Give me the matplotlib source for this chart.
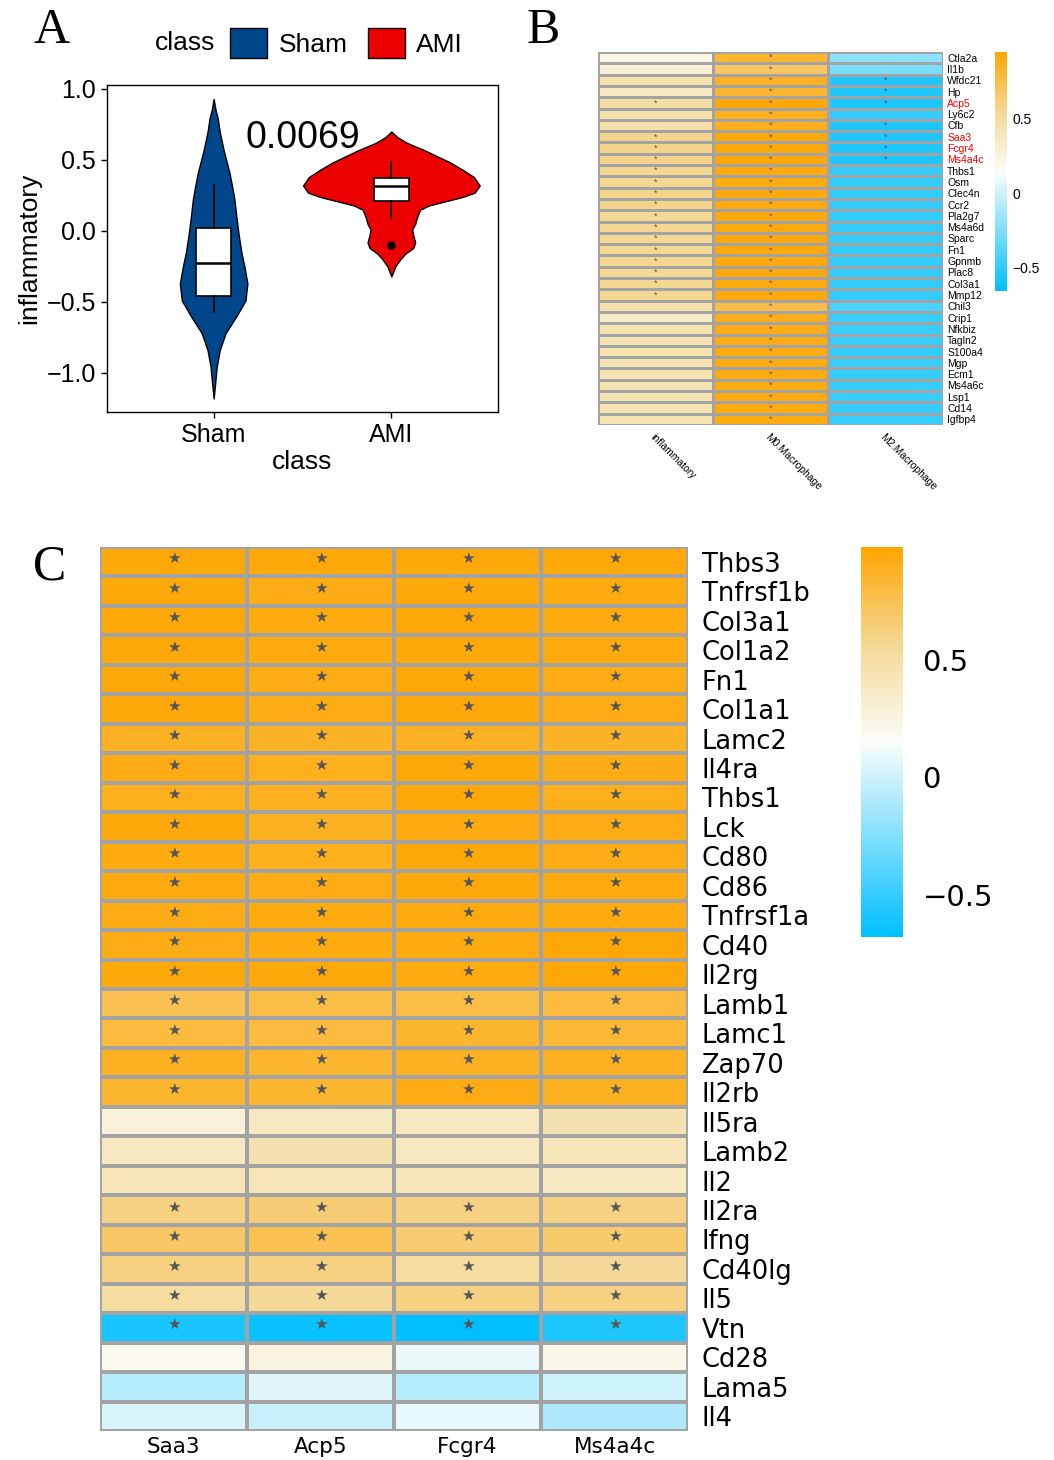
import numpy as np
import matplotlib
matplotlib.use('Agg')
import matplotlib.pyplot as plt
from matplotlib.colors import LinearSegmentedColormap, Normalize
from matplotlib.cm import ScalarMappable
from matplotlib.patches import Patch

plt.rcParams['font.family'] = ['Liberation Sans', 'DejaVu Sans']

# ---------------- panel A : violin + box ----------------
groups = ['Sham', 'AMI']
group_colors = ['#00468B', '#ED0000']

# violin outline: level -> half width (category units)
sham_levels = [0.93, 0.85, 0.80, 0.70, 0.57, 0.41, 0.30, 0.22, 0.10, -0.02,
               -0.15, -0.25, -0.37, -0.49, -0.60, -0.72, -0.84, -0.96, -1.08, -1.18]
sham_width = [0, .011, .022, .034, .056, .089, .106, .117, .128, .140,
              .156, .173, .190, .179, .128, .067, .034, .017, .008, 0]
ami_levels = [0.70, 0.66, 0.62, 0.57, 0.52, 0.48, 0.43, 0.38, 0.32, 0.27, 0.24, 0.21,
              0.18, 0.15, 0.10, 0.05, 0.01, -0.03, -0.08, -0.12, -0.16, -0.20, -0.25, -0.32]
ami_width = [0, .034, .089, .184, .268, .335, .402, .464, .497, .469, .402, .307,
             .212, .162, .145, .134, .117, .123, .134, .123, .078, .050, .022, 0]

sham_box = dict(whislo=-0.573, q1=-0.458, med=-0.225, q3=0.021, whishi=0.324, fliers=[])
ami_box = dict(whislo=0.09, q1=0.21, med=0.317, q3=0.373, whishi=0.487, fliers=[-0.10])
p_value = '0.0069'

# ---------------- panel B : correlation heatmap ----------------
b_rows = ['Ctla2a', 'Il1b', 'Wfdc21', 'Hp', 'Acp5', 'Ly6c2', 'Cfb', 'Saa3', 'Fcgr4',
          'Ms4a4c', 'Thbs1', 'Osm', 'Clec4n', 'Ccr2', 'Pla2g7', 'Ms4a6d', 'Sparc', 'Fn1',
          'Gpnmb', 'Plac8', 'Col3a1', 'Mmp12', 'Chil3', 'Crip1', 'Nfkbiz', 'Tagln2',
          'S100a4', 'Mgp', 'Ecm1', 'Ms4a6c', 'Lsp1', 'Cd14', 'Igfbp4']
b_cols = ['inflammatory', 'M0.Macrophage', 'M2.Macrophage']
b_red = ['Acp5', 'Saa3', 'Fcgr4', 'Ms4a4c']
b_inflam = [0.23, 0.29, 0.46, 0.36, 0.48, 0.45, 0.45, 0.57, 0.57, 0.57, 0.56, 0.56,
            0.57, 0.57, 0.56, 0.56, 0.56, 0.56, 0.56, 0.56, 0.56, 0.56, 0.45, 0.33,
            0.43, 0.43, 0.43, 0.43, 0.43, 0.43, 0.43, 0.43, 0.43]
b_m0 = [0.82, 0.68, 0.85, 0.82, 0.93, 0.87, 0.87, 0.92, 0.92, 0.92, 0.91, 0.90,
        0.91, 0.91, 0.91, 0.91, 0.91, 0.91, 0.91, 0.91, 0.91, 0.91, 0.75, 0.88,
        0.89, 0.89, 0.90, 0.90, 0.90, 0.90, 0.90, 0.90, 0.90]
b_m2 = [-0.21, -0.27, -0.56, -0.56, -0.57, -0.50, -0.56, -0.57, -0.57, -0.56, -0.50, -0.50,
        -0.50, -0.50, -0.50, -0.50, -0.50, -0.50, -0.50, -0.50, -0.50, -0.50, -0.42, -0.48,
        -0.48, -0.48, -0.49, -0.49, -0.49, -0.49, -0.49, -0.49, -0.49]
b_star_inflam = [5, 8, 9, 10, 11, 12, 13, 14, 15, 16, 17, 18, 19, 20, 21, 22]
b_star_m2 = [3, 4, 5, 7, 8, 9, 10]
b_range = (-0.66, 0.95)

# ---------------- panel C : gene x gene heatmap ----------------
c_rows = ['Thbs3', 'Tnfrsf1b', 'Col3a1', 'Col1a2', 'Fn1', 'Col1a1', 'Lamc2', 'Il4ra',
          'Thbs1', 'Lck', 'Cd80', 'Cd86', 'Tnfrsf1a', 'Cd40', 'Il2rg', 'Lamb1', 'Lamc1',
          'Zap70', 'Il2rb', 'Il5ra', 'Lamb2', 'Il2', 'Il2ra', 'Ifng', 'Cd40lg', 'Il5',
          'Vtn', 'Cd28', 'Lama5', 'Il4']
c_cols = ['Saa3', 'Acp5', 'Fcgr4', 'Ms4a4c']
c_values = [
    [0.95, 0.95, 0.95, 0.95],
    [0.95, 0.92, 0.95, 0.93],
    [0.95, 0.93, 0.95, 0.93],
    [0.95, 0.93, 0.95, 0.93],
    [0.95, 0.92, 0.95, 0.92],
    [0.95, 0.92, 0.95, 0.92],
    [0.88, 0.87, 0.88, 0.87],
    [0.92, 0.90, 0.95, 0.92],
    [0.90, 0.88, 0.95, 0.90],
    [0.95, 0.88, 0.93, 0.92],
    [0.93, 0.90, 0.95, 0.92],
    [0.93, 0.92, 0.95, 0.93],
    [0.92, 0.93, 0.93, 0.93],
    [0.92, 0.93, 0.93, 0.96],
    [0.95, 0.95, 0.93, 0.96],
    [0.75, 0.78, 0.78, 0.80],
    [0.80, 0.80, 0.85, 0.83],
    [0.88, 0.85, 0.88, 0.88],
    [0.85, 0.85, 0.92, 0.88],
    [0.28, 0.38, 0.38, 0.45],
    [0.38, 0.45, 0.38, 0.42],
    [0.42, 0.42, 0.42, 0.38],
    [0.62, 0.65, 0.62, 0.62],
    [0.70, 0.75, 0.66, 0.68],
    [0.62, 0.62, 0.52, 0.55],
    [0.52, 0.55, 0.62, 0.62],
    [-0.60, -0.65, -0.68, -0.58],
    [0.20, 0.25, 0.10, 0.22],
    [-0.08, 0.06, -0.08, 0.00],
    [0.03, -0.02, 0.08, -0.10],
]
c_no_star = ['Il5ra', 'Lamb2', 'Il2', 'Cd28', 'Lama5', 'Il4']
c_range = (-0.68, 0.98)

cmap = LinearSegmentedColormap.from_list(
    'bwo', [(0, '#00BFFF'), (0.5, '#FBFDFA'), (0.75, '#F4D895'), (1, '#FFA500')])
grid_col = '#A3A3A3'
W, H = 1054, 1460


def fx(px):
    return px / W


def fy(py):
    return 1 - py / H


fig = plt.figure(figsize=(W / 100, H / 100), dpi=100)

# ---- A ----
ax = fig.add_axes([fx(107), fy(412), fx(391), 327 / H])
for i, (lv, wd) in enumerate([(sham_levels, sham_width), (ami_levels, ami_width)]):
    lv = np.array(lv)
    wd = np.array(wd)
    ax.fill_betweenx(lv, i + 1 - wd, i + 1 + wd, facecolor=group_colors[i],
                     edgecolor='black', linewidth=1.0, zorder=1)
stats = [sham_box, ami_box]
ax.bxp(stats, positions=[1, 2], widths=0.2, patch_artist=True, showcaps=False,
       boxprops=dict(facecolor='white', edgecolor='black', linewidth=1.2),
       whiskerprops=dict(color='black', linewidth=1.2),
       medianprops=dict(color='black', linewidth=1.8),
       flierprops=dict(marker='o', markerfacecolor='black', markeredgecolor='black',
                       markersize=5), zorder=2)
ax.set_xlim(0.4, 2.6)
ax.set_ylim(-1.275, 1.028)
ax.set_xticks([1, 2])
ax.set_xticklabels(groups)
ax.set_yticks([-1.0, -0.5, 0.0, 0.5, 1.0])
ax.set_yticklabels(['\u22121.0', '\u22120.5', '0.0', '0.5', '1.0'])
ax.tick_params(labelsize=18, length=4, width=1, pad=4)
ax.set_xlabel('class', fontsize=19, labelpad=2)
ax.set_ylabel('inflammatory', fontsize=19, labelpad=4)
for s in ax.spines.values():
    s.set_linewidth(1.0)
ax.text(1.5, 0.655, p_value, fontsize=27, ha='center', va='center')

handles = [Patch(facecolor=c, edgecolor='black', label=g) for g, c in zip(groups, group_colors)]
fig.legend(handles=handles, loc='center left', bbox_to_anchor=(fx(230), fy(43)), ncol=2,
           frameon=False, fontsize=19, handlelength=1.4, handleheight=1.4,
           handletextpad=0.45, columnspacing=0.75, borderpad=0, borderaxespad=0)
fig.text(fx(215), fy(43), 'class', fontsize=19, ha='right', va='center')

# ---- B ----
norm_b = Normalize(*b_range)
data_b = np.column_stack([b_inflam, b_m0, b_m2])
axb = fig.add_axes([fx(598), fy(425), fx(345), 373 / H])
axb.pcolormesh(data_b, cmap=cmap, norm=norm_b, edgecolors=grid_col, linewidth=1.0)
axb.set_xlim(0, 3)
axb.set_ylim(len(b_rows), 0)
axb.set_xticks([])
axb.yaxis.tick_right()
axb.set_yticks(np.arange(len(b_rows)) + 0.5)
axb.set_yticklabels(b_rows, fontsize=7.5)
axb.tick_params(axis='y', length=0, pad=3)
for lab in axb.get_yticklabels():
    if lab.get_text() in b_red:
        lab.set_color('red')
for s in axb.spines.values():
    s.set_visible(False)
for r in b_star_inflam:
    axb.text(0.5, r - 0.5, '*', fontsize=6.5, color='#555555', ha='center', va='center')
for r in range(len(b_rows)):
    axb.text(1.5, r + 0.5, '*', fontsize=6.5, color='#555555', ha='center', va='center')
for r in b_star_m2:
    axb.text(2.5, r - 0.5, '*', fontsize=6.5, color='#555555', ha='center', va='center')
for j, c in enumerate(b_cols):
    axb.text(j + 0.5, len(b_rows) + 0.6, c, fontsize=7.5, rotation=-45, ha='left', va='top',
             rotation_mode='anchor')

caxb = fig.add_axes([fx(995), fy(291), fx(12), 239 / H])
cbb = fig.colorbar(ScalarMappable(norm=norm_b, cmap=cmap), cax=caxb, ticks=[-0.5, 0, 0.5])
cbb.outline.set_visible(False)
cbb.ax.set_yticklabels(['\u22120.5', '0', '0.5'])
caxb.tick_params(length=0, labelsize=10, pad=4)

# ---- C ----
norm_c = Normalize(*c_range)
axc = fig.add_axes([fx(100), fy(1431), fx(588), 884 / H])
axc.pcolormesh(np.array(c_values), cmap=cmap, norm=norm_c, edgecolors=grid_col, linewidth=1.6)
axc.set_xlim(0, len(c_cols))
axc.set_ylim(len(c_rows), 0)
axc.yaxis.tick_right()
axc.set_yticks(np.arange(len(c_rows)) + 0.5)
axc.set_yticklabels(c_rows, fontsize=18.5, family='DejaVu Sans')
axc.set_xticks(np.arange(len(c_cols)) + 0.5)
axc.set_xticklabels(c_cols, fontsize=15.5, family='DejaVu Sans')
axc.tick_params(axis='y', length=0, pad=10)
axc.tick_params(axis='x', length=0, pad=4)
for s in axc.spines.values():
    s.set_visible(False)
for r, name in enumerate(c_rows):
    if name in c_no_star:
        continue
    for j in range(len(c_cols)):
        axc.text(j + 0.5, r + 0.4, '\u2605', fontsize=11, color='#555555', ha='center',
                 va='center', family='DejaVu Sans')

caxc = fig.add_axes([fx(861), fy(937), fx(42), 390 / H])
cbc = fig.colorbar(ScalarMappable(norm=norm_c, cmap=cmap), cax=caxc, ticks=[-0.5, 0, 0.5])
cbc.outline.set_visible(False)
cbc.ax.set_yticklabels(['\u22120.5', '0', '0.5'], family='DejaVu Sans')
caxc.tick_params(length=0, labelsize=21, pad=14)

# panel letters
for letter, x, y in [('A', 33, 43), ('B', 527, 43), ('C', 33, 580)]:
    fig.text(fx(x), fy(y), letter, fontsize=36, family='Liberation Serif', va='baseline')

fig.savefig('out.png', dpi=100)
